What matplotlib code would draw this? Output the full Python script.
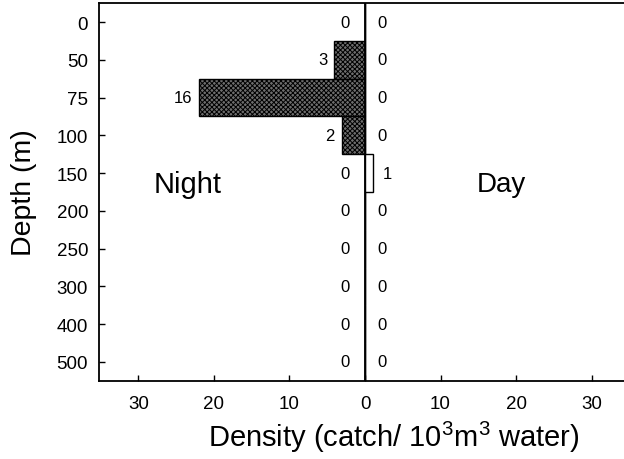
import numpy as np
import matplotlib
matplotlib.use("Agg")
from matplotlib import pyplot as plt

# depth strata (m), top to bottom
depths = ["0", "50", "75", "100", "150", "200", "250", "300", "400", "500"]
# density (catch / 10^3 m^3 water)
night_density = [0, 4.1, 22.0, 3.1, 0, 0, 0, 0, 0, 0]
day_density = [0, 0, 0, 0, 1.0, 0, 0, 0, 0, 0]
# raw catch numbers printed beside the bars
night_catch = [0, 3, 16, 2, 0, 0, 0, 0, 0, 0]
day_catch = [0, 0, 0, 0, 1, 0, 0, 0, 0, 0]
x_ticks = [-30, -20, -10, 0, 10, 20, 30]

plt.rcParams['font.family'] = ['Liberation Sans', 'DejaVu Sans']
plt.rcParams['mathtext.fontset'] = 'custom'
plt.rcParams['mathtext.rm'] = 'Liberation Sans'
plt.rcParams['mathtext.it'] = 'Liberation Sans'
plt.rcParams['hatch.linewidth'] = 0.7
plt.rcParams['hatch.color'] = '#111111'

fig = plt.figure(figsize=(6.24, 4.6), dpi=100)
ax = fig.add_axes([0.159, 0.170, 0.841, 0.821])

pos = np.arange(len(depths))

# night to the left of zero, day to the right
ax.barh(pos, [-d for d in night_density], height=1.0, left=0,
        facecolor='#6e6e6e', edgecolor='black', hatch='xxxxxxx', linewidth=1.0)
ax.barh(pos, day_density, height=1.0, left=0,
        facecolor='white', edgecolor='black', linewidth=1.0)

ax.axvline(0, color='black', linewidth=1.3)

for i in pos:
    nx = -(max(night_density[i], 1.2) + 0.9)
    ax.text(nx, i, str(night_catch[i]), ha='right', va='center', fontsize=12)
    dx = day_density[i] + 1.4 if day_density[i] > 0 else 1.6
    ax.text(dx, i, str(day_catch[i]), ha='left', va='center', fontsize=12)

ax.text(-23.5, 4.3, "Night", ha='center', va='center', fontsize=21)
ax.text(18.1, 4.3, "Day", ha='center', va='center', fontsize=20)

ax.set_xlim(-35.2, 34.3)
ax.set_ylim(9.5, -0.5)
ax.set_yticks(pos)
ax.set_yticklabels(depths)
ax.set_xticks(x_ticks)
ax.set_xticklabels([str(abs(v)) for v in x_ticks])
ax.tick_params(direction='in', length=4, width=1.0, labelsize=13.5)
ax.tick_params(axis='x', pad=10)
ax.tick_params(axis='y', pad=8)

for s in ['left', 'bottom', 'top']:
    ax.spines[s].set_linewidth(1.3)
ax.spines['right'].set_visible(False)

ax.set_ylabel("Depth (m)", fontsize=20.5, labelpad=14)
ax.set_xlabel("Density (catch/ 10$^{\\mathregular{3}}$m$^{\\mathregular{3}}$ water)",
              fontsize=21, va='baseline')
ax.xaxis.set_label_coords(0.562, -0.172)

fig.savefig("out.png", dpi=100)
